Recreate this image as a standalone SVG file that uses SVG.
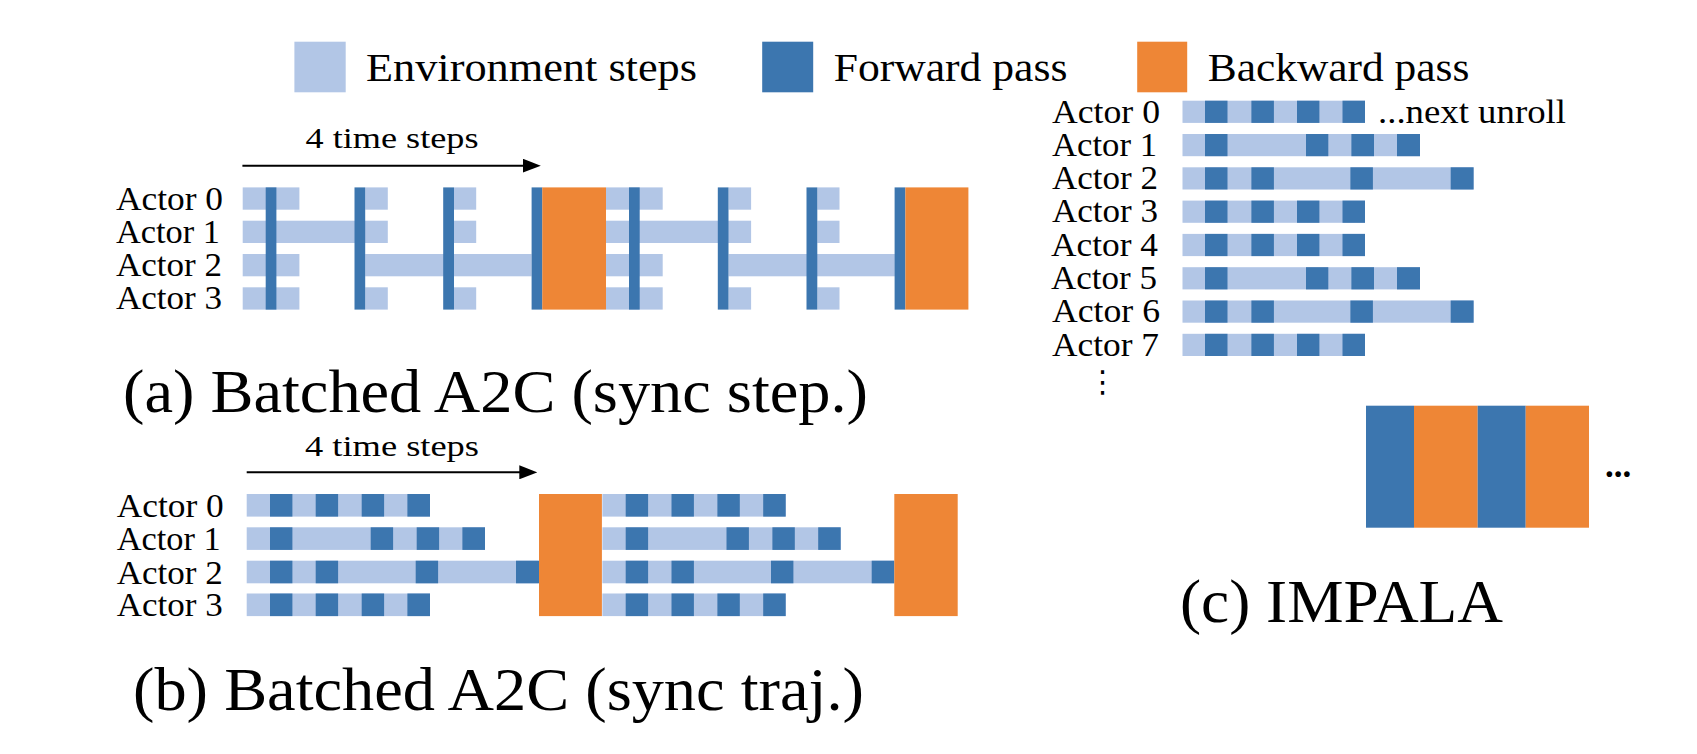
<svg xmlns="http://www.w3.org/2000/svg" width="1697" height="754" viewBox="0 0 1697 754">
<style>
text{font-family:"Liberation Serif","Times New Roman",serif;fill:#000}
.env{fill:#B2C6E6}
.fwd{fill:#3C76AF}
.bwd{fill:#EE8636}
.lbl{font-size:33px}
.leg{font-size:40px}
.ts{font-size:30px}
.ttl{font-size:62px}
.arr{stroke:#000;stroke-width:2;fill:none}
</style>
<defs>
<marker id="ah" viewBox="0 0 18 14" refX="10" refY="7" markerWidth="18" markerHeight="14" markerUnits="userSpaceOnUse" orient="auto">
<path d="M0,0 L18,7 L0,14 Z" fill="#000"/>
</marker>
</defs>
<rect width="1697" height="754" fill="#fff"/>

<g id="legend">
<rect class="env" x="294.4" y="41.7" width="51.3" height="50.6"/>
<text class="leg" x="366" y="81" textLength="331" lengthAdjust="spacingAndGlyphs">Environment steps</text>
<rect class="fwd" x="762.2" y="41.7" width="51" height="50.6"/>
<text class="leg" x="833.7" y="81" textLength="233.7" lengthAdjust="spacingAndGlyphs">Forward pass</text>
<rect class="bwd" x="1137.2" y="41.7" width="50" height="50.6"/>
<text class="leg" x="1207.7" y="81" textLength="261.7" lengthAdjust="spacingAndGlyphs">Backward pass</text>
</g>

<g id="connectors">
<line class="arr" x1="242.4" y1="165.7" x2="532.8" y2="165.7" marker-end="url(#ah)"/>
<line class="arr" x1="246.7" y1="472.3" x2="529.3" y2="472.3" marker-end="url(#ah)"/>
</g>

<g id="panel-a">
<text class="ts" x="305.5" y="148.3" textLength="173" lengthAdjust="spacingAndGlyphs">4 time steps</text>
<text class="lbl" x="116" y="210" textLength="107" lengthAdjust="spacingAndGlyphs">Actor 0</text>
<text class="lbl" x="116" y="243" textLength="104" lengthAdjust="spacingAndGlyphs">Actor 1</text>
<text class="lbl" x="116" y="276" textLength="106" lengthAdjust="spacingAndGlyphs">Actor 2</text>
<text class="lbl" x="116" y="309" textLength="106" lengthAdjust="spacingAndGlyphs">Actor 3</text>
<g id="a-env">
<rect class="env" x="242.7" y="187.4" width="56.7" height="22.3"/>
<rect class="env" x="365.2" y="187.4" width="22.6" height="22.3"/>
<rect class="env" x="454" y="187.4" width="22.2" height="22.3"/>
<rect class="env" x="242.7" y="220.7" width="145.1" height="22.3"/>
<rect class="env" x="454" y="220.7" width="22.2" height="22.3"/>
<rect class="env" x="242.7" y="254" width="56.7" height="22.3"/>
<rect class="env" x="365.2" y="254" width="166.4" height="22.3"/>
<rect class="env" x="242.7" y="287.3" width="56.7" height="22.3"/>
<rect class="env" x="365.2" y="287.3" width="22.6" height="22.3"/>
<rect class="env" x="454" y="287.3" width="22.2" height="22.3"/>

<rect class="env" x="606" y="187.4" width="56.7" height="22.3"/>
<rect class="env" x="728.5" y="187.4" width="22.6" height="22.3"/>
<rect class="env" x="817.3" y="187.4" width="22.2" height="22.3"/>
<rect class="env" x="606" y="220.7" width="145.1" height="22.3"/>
<rect class="env" x="817.3" y="220.7" width="22.2" height="22.3"/>
<rect class="env" x="606" y="254" width="56.7" height="22.3"/>
<rect class="env" x="728.5" y="254" width="166.4" height="22.3"/>
<rect class="env" x="606" y="287.3" width="56.7" height="22.3"/>
<rect class="env" x="728.5" y="287.3" width="22.6" height="22.3"/>
<rect class="env" x="817.3" y="287.3" width="22.2" height="22.3"/>
</g>
<g id="a-fwd">
<rect class="fwd" x="265.7" y="187.4" width="10.7" height="122.2"/>
<rect class="fwd" x="354.5" y="187.4" width="10.7" height="122.2"/>
<rect class="fwd" x="443.2" y="187.4" width="10.8" height="122.2"/>
<rect class="fwd" x="531.6" y="187.4" width="10.8" height="122.2"/>
<rect class="fwd" x="629" y="187.4" width="10.7" height="122.2"/>
<rect class="fwd" x="717.8" y="187.4" width="10.7" height="122.2"/>
<rect class="fwd" x="806.5" y="187.4" width="10.8" height="122.2"/>
<rect class="fwd" x="894.6" y="187.4" width="10.8" height="122.2"/>
</g>
<g id="a-bwd">
<rect class="bwd" x="542.3" y="187.4" width="63.7" height="122.2"/>
<rect class="bwd" x="905.4" y="187.4" width="63" height="122.2"/>
</g>
<text class="ttl" x="123" y="411.7" textLength="745" lengthAdjust="spacingAndGlyphs">(a) Batched A2C (sync step.)</text>
</g>

<g id="panel-b">
<text class="ts" x="305" y="456" textLength="174" lengthAdjust="spacingAndGlyphs">4 time steps</text>
<text class="lbl" x="116.7" y="517" textLength="107" lengthAdjust="spacingAndGlyphs">Actor 0</text>
<text class="lbl" x="116.7" y="550.3" textLength="104" lengthAdjust="spacingAndGlyphs">Actor 1</text>
<text class="lbl" x="116.7" y="583.6" textLength="106" lengthAdjust="spacingAndGlyphs">Actor 2</text>
<text class="lbl" x="116.7" y="616.2" textLength="106" lengthAdjust="spacingAndGlyphs">Actor 3</text>
<g id="b-env">
<rect class="env" x="246.7" y="494" width="183.3" height="22.6"/>
<rect class="env" x="246.7" y="527.3" width="238.3" height="22.6"/>
<rect class="env" x="246.7" y="560.7" width="291.6" height="22.6"/>
<rect class="env" x="246.7" y="593.5" width="183.3" height="22.6"/>
<rect class="env" x="602.4" y="494" width="183.3" height="22.6"/>
<rect class="env" x="602.4" y="527.3" width="238.3" height="22.6"/>
<rect class="env" x="602.4" y="560.7" width="291.9" height="22.6"/>
<rect class="env" x="602.4" y="593.5" width="183.3" height="22.6"/>
</g>
<g id="b-fwd">
<rect class="fwd" x="270" y="494" width="22.4" height="22.6"/>
<rect class="fwd" x="315.7" y="494" width="22.4" height="22.6"/>
<rect class="fwd" x="361.7" y="494" width="22.4" height="22.6"/>
<rect class="fwd" x="407.4" y="494" width="22.6" height="22.6"/>
<rect class="fwd" x="270" y="527.3" width="22.4" height="22.6"/>
<rect class="fwd" x="370.7" y="527.3" width="22.4" height="22.6"/>
<rect class="fwd" x="416.7" y="527.3" width="22.4" height="22.6"/>
<rect class="fwd" x="462.4" y="527.3" width="22.6" height="22.6"/>
<rect class="fwd" x="270" y="560.7" width="22.4" height="22.6"/>
<rect class="fwd" x="315.7" y="560.7" width="22.4" height="22.6"/>
<rect class="fwd" x="415.7" y="560.7" width="22.4" height="22.6"/>
<rect class="fwd" x="516" y="560.7" width="23" height="22.6"/>
<rect class="fwd" x="270" y="593.5" width="22.4" height="22.6"/>
<rect class="fwd" x="315.7" y="593.5" width="22.4" height="22.6"/>
<rect class="fwd" x="361.7" y="593.5" width="22.4" height="22.6"/>
<rect class="fwd" x="407.4" y="593.5" width="22.6" height="22.6"/>

<rect class="fwd" x="625.7" y="494" width="22.4" height="22.6"/>
<rect class="fwd" x="671.5" y="494" width="22.4" height="22.6"/>
<rect class="fwd" x="717.4" y="494" width="22.4" height="22.6"/>
<rect class="fwd" x="763.2" y="494" width="22.5" height="22.6"/>
<rect class="fwd" x="625.7" y="527.3" width="22.4" height="22.6"/>
<rect class="fwd" x="726.5" y="527.3" width="22.4" height="22.6"/>
<rect class="fwd" x="772.4" y="527.3" width="22.4" height="22.6"/>
<rect class="fwd" x="818.2" y="527.3" width="22.5" height="22.6"/>
<rect class="fwd" x="625.7" y="560.7" width="22.4" height="22.6"/>
<rect class="fwd" x="671.5" y="560.7" width="22.4" height="22.6"/>
<rect class="fwd" x="771" y="560.7" width="22.4" height="22.6"/>
<rect class="fwd" x="871.7" y="560.7" width="22.6" height="22.6"/>
<rect class="fwd" x="625.7" y="593.5" width="22.4" height="22.6"/>
<rect class="fwd" x="671.5" y="593.5" width="22.4" height="22.6"/>
<rect class="fwd" x="717.4" y="593.5" width="22.4" height="22.6"/>
<rect class="fwd" x="763.2" y="593.5" width="22.5" height="22.6"/>
</g>
<g id="b-bwd">
<rect class="bwd" x="539" y="494" width="62.9" height="122.1"/>
<rect class="bwd" x="894.3" y="494" width="63.4" height="122.1"/>
</g>
<text class="ttl" x="133" y="710" textLength="731" lengthAdjust="spacingAndGlyphs">(b) Batched A2C (sync traj.)</text>
</g>

<g id="panel-c">
<text class="lbl" x="1052" y="122.5" textLength="108" lengthAdjust="spacingAndGlyphs">Actor 0</text>
<text class="lbl" x="1052" y="155.8" textLength="105" lengthAdjust="spacingAndGlyphs">Actor 1</text>
<text class="lbl" x="1052" y="189.1" textLength="106" lengthAdjust="spacingAndGlyphs">Actor 2</text>
<text class="lbl" x="1052" y="222.4" textLength="106" lengthAdjust="spacingAndGlyphs">Actor 3</text>
<text class="lbl" x="1051" y="255.7" textLength="107" lengthAdjust="spacingAndGlyphs">Actor 4</text>
<text class="lbl" x="1051" y="289" textLength="106" lengthAdjust="spacingAndGlyphs">Actor 5</text>
<text class="lbl" x="1052" y="322.3" textLength="108" lengthAdjust="spacingAndGlyphs">Actor 6</text>
<text class="lbl" x="1052" y="355.6" textLength="107" lengthAdjust="spacingAndGlyphs">Actor 7</text>
<text x="1102.7" y="392" font-size="30" text-anchor="middle" style="font-family:'DejaVu Serif','DejaVu Sans',serif">⋮</text>
<text class="lbl" x="1378" y="122.5" textLength="188" lengthAdjust="spacingAndGlyphs">...next unroll</text>
<g id="c-env">
<rect class="env" x="1182.5" y="100.7" width="182.5" height="22.2"/>
<rect class="env" x="1182.5" y="134" width="237.5" height="22.2"/>
<rect class="env" x="1182.5" y="167.3" width="291.1" height="22.2"/>
<rect class="env" x="1182.5" y="200.6" width="182.5" height="22.2"/>
<rect class="env" x="1182.5" y="233.9" width="182.5" height="22.2"/>
<rect class="env" x="1182.5" y="267.2" width="237.5" height="22.2"/>
<rect class="env" x="1182.5" y="300.5" width="291.1" height="22.2"/>
<rect class="env" x="1182.5" y="333.8" width="182.5" height="22.2"/>
</g>
<g id="c-fwd">
<rect class="fwd" x="1205" y="100.7" width="22.5" height="22.2"/>
<rect class="fwd" x="1251.4" y="100.7" width="22.5" height="22.2"/>
<rect class="fwd" x="1297" y="100.7" width="22.4" height="22.2"/>
<rect class="fwd" x="1342.5" y="100.7" width="22.5" height="22.2"/>
<rect class="fwd" x="1205" y="134" width="22.5" height="22.2"/>
<rect class="fwd" x="1306" y="134" width="22.3" height="22.2"/>
<rect class="fwd" x="1351.4" y="134" width="22.6" height="22.2"/>
<rect class="fwd" x="1397" y="134" width="23" height="22.2"/>
<rect class="fwd" x="1205" y="167.3" width="22.5" height="22.2"/>
<rect class="fwd" x="1251.4" y="167.3" width="22.5" height="22.2"/>
<rect class="fwd" x="1350.4" y="167.3" width="22.5" height="22.2"/>
<rect class="fwd" x="1450.7" y="167.3" width="22.9" height="22.2"/>
<rect class="fwd" x="1205" y="200.6" width="22.5" height="22.2"/>
<rect class="fwd" x="1251.4" y="200.6" width="22.5" height="22.2"/>
<rect class="fwd" x="1297" y="200.6" width="22.4" height="22.2"/>
<rect class="fwd" x="1342.5" y="200.6" width="22.5" height="22.2"/>
<rect class="fwd" x="1205" y="233.9" width="22.5" height="22.2"/>
<rect class="fwd" x="1251.4" y="233.9" width="22.5" height="22.2"/>
<rect class="fwd" x="1297" y="233.9" width="22.4" height="22.2"/>
<rect class="fwd" x="1342.5" y="233.9" width="22.5" height="22.2"/>
<rect class="fwd" x="1205" y="267.2" width="22.5" height="22.2"/>
<rect class="fwd" x="1306" y="267.2" width="22.3" height="22.2"/>
<rect class="fwd" x="1351.4" y="267.2" width="22.6" height="22.2"/>
<rect class="fwd" x="1397" y="267.2" width="23" height="22.2"/>
<rect class="fwd" x="1205" y="300.5" width="22.5" height="22.2"/>
<rect class="fwd" x="1251.4" y="300.5" width="22.5" height="22.2"/>
<rect class="fwd" x="1350.4" y="300.5" width="22.5" height="22.2"/>
<rect class="fwd" x="1450.7" y="300.5" width="22.9" height="22.2"/>
<rect class="fwd" x="1205" y="333.8" width="22.5" height="22.2"/>
<rect class="fwd" x="1251.4" y="333.8" width="22.5" height="22.2"/>
<rect class="fwd" x="1297" y="333.8" width="22.4" height="22.2"/>
<rect class="fwd" x="1342.5" y="333.8" width="22.5" height="22.2"/>
</g>
<g id="c-learner">
<rect class="fwd" x="1366" y="405.7" width="48" height="122"/>
<rect class="bwd" x="1414" y="405.7" width="63.7" height="122"/>
<rect class="fwd" x="1477.7" y="405.7" width="48" height="122"/>
<rect class="bwd" x="1525.7" y="405.7" width="63.3" height="122"/>
</g>
<text x="1605" y="477" font-size="35" font-weight="bold">...</text>
<text class="ttl" x="1180" y="622.3" textLength="323" lengthAdjust="spacingAndGlyphs">(c) IMPALA</text>
</g>
</svg>
